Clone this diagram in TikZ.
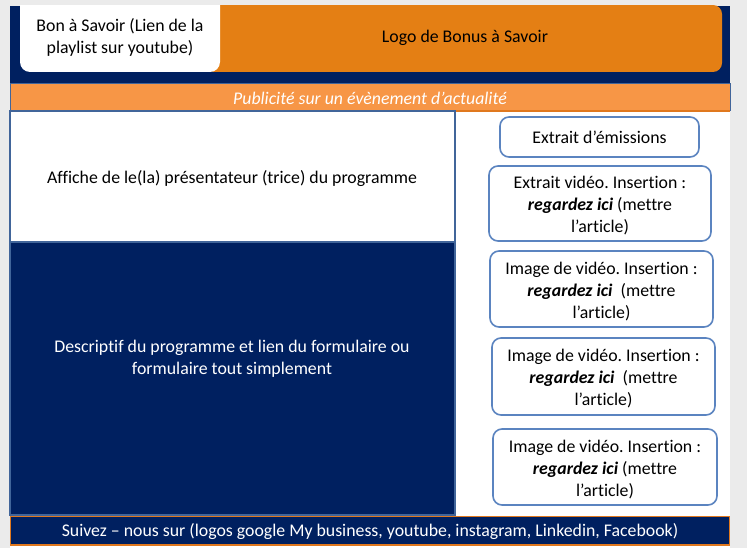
\documentclass[tikz,border=0pt]{standalone}
\usepackage{fontspec}
\setmainfont{Carlito}[Ligatures=NoCommon]
\frenchspacing
\definecolor{navy}{HTML}{002060}
\definecolor{hdrorange}{HTML}{E47F14}
\definecolor{pubband}{HTML}{F79646}
\definecolor{publine}{HTML}{E0781E}
\definecolor{edgeblue}{HTML}{41659A}
\definecolor{boxblue}{HTML}{5B84C0}
\definecolor{pagegrey}{HTML}{EBEBEB}
\newcommand{\pushdown}{\rule{0pt}{17pt}}
\tikzset{
  txt/.style={font=\fontsize{17.8}{22}\selectfont\frenchspacing, align=center, inner sep=0pt},
  wtxt/.style={txt, text=white},
  rbox/.style={draw=boxblue, line width=1.6pt, fill=white, rounded corners=9pt},
}
\begin{document}
\begin{tikzpicture}[x=1pt,y=-1pt]
\useasboundingbox (0,0) rectangle (747,548);
% background
\fill[pagegrey] (0,0) rectangle (747,548);
\fill[white] (10,6) rectangle (730,548);
% header
\fill[navy] (10,6) rectangle (730,84);
\begin{scope}
\clip (10,6) rectangle (730,84);
\fill[hdrorange, rounded corners=9pt] (205,5) rectangle (722,72);
\fill[white, rounded corners=10pt] (20,-20) rectangle (220,72);
\end{scope}
\node[txt] (bon) at (120,37) {Bon à Savoir (Lien de la\\playlist sur youtube)};
\node[txt] (logo) at (465,38) {Logo de Bonus à Savoir};
% publicite band
\draw[edgeblue, line width=1pt, fill=pubband] (10,84) rectangle (730,111);
\draw[publine, line width=1.2pt] (10,111) -- (730,111);
\node[wtxt, font=\fontsize{17.8}{22}\selectfont\itshape] (pub) at (370,98.5) {Publicité sur un évènement d’actualité};
% left panels
\draw[edgeblue, line width=1.6pt, fill=white] (10,111) rectangle (455,242);
\node[txt] (affiche) at (232,179) {Affiche de le(la) présentateur (trice) du programme};
\draw[edgeblue, line width=1.6pt, fill=navy] (10,242) rectangle (455,515);
\node[wtxt] (desc) at (232,359) {Descriptif du programme et lien du formulaire ou\\formulaire tout simplement};
% right boxes
\node[rbox, txt, minimum width=199pt, minimum height=40pt] (b1) at (599.5,137) {Extrait d’émissions};
\node[rbox, txt, minimum width=222pt, minimum height=75pt] (b2) at (600,203.5) {\pushdown Extrait vidéo. Insertion :\\\textbf{\textit{regardez ici}} (mettre\\l’article)};
\node[rbox, txt, minimum width=223pt, minimum height=76pt] (b3) at (601.5,289) {\pushdown Image de vidéo. Insertion :\\\textbf{\textit{regardez ici}}\ \ (mettre\\l’article)};
\node[rbox, txt, minimum width=223pt, minimum height=77pt] (b4) at (603.5,376.5) {\pushdown Image de vidéo. Insertion :\\\textbf{\textit{regardez ici}}\ \ (mettre\\l’article)};
\node[rbox, txt, minimum width=224pt, minimum height=76pt] (b5) at (605,467) {\pushdown Image de vidéo. Insertion :\\\textbf{\textit{regardez ici}} (mettre\\l’article)};
% footer
\draw[publine, line width=1.4pt, fill=navy] (10.5,516.5) rectangle (729.5,545);
\node[wtxt] (foot) at (370,532) {Suivez – nous sur (logos google My business, youtube, instagram, Linkedin, Facebook)};
\end{tikzpicture}
\end{document}
